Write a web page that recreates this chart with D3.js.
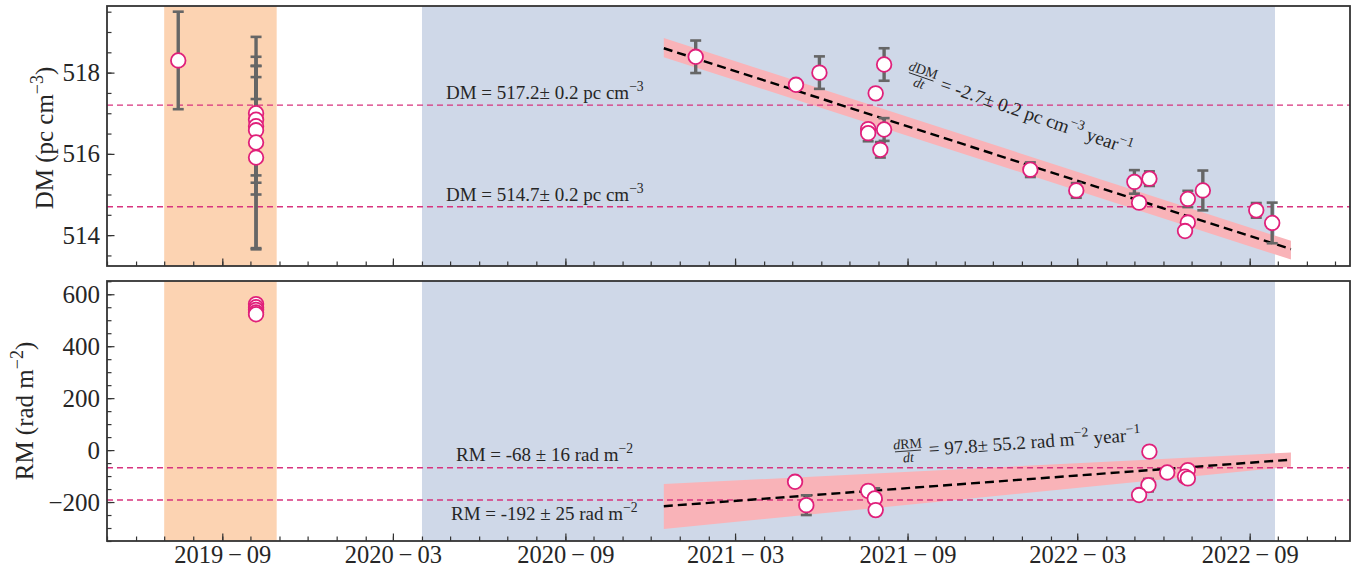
<!DOCTYPE html>
<html>
<head>
<meta charset="utf-8">
<script src="https://cdn.jsdelivr.net/npm/d3@7"></script>
<style>
  body { margin: 0; background: #fff; }
  svg { display: block; }
</style>
</head>
<body>
<svg id="chart" width="1360" height="571" font-family="Liberation Serif, Times New Roman, serif"></svg>
<script>
// ---------- data ----------
// DM measurements: epoch, value (pc cm^-3), 1-sigma error
const dmDates = [
  "2019-07-16",
  "2019-10-07", "2019-10-07", "2019-10-07", "2019-10-07", "2019-10-07", "2019-10-07",
  "2021-01-18", "2021-05-05", "2021-05-30", "2021-07-21", "2021-07-21", "2021-07-29",
  "2021-08-07", "2021-08-07", "2021-08-03",
  "2022-01-10", "2022-02-28", "2022-05-01", "2022-05-06", "2022-05-17",
  "2022-06-27", "2022-06-27", "2022-06-24", "2022-07-13", "2022-09-08", "2022-09-25"
];
const dmValues = [
  518.3,
  517.0, 516.84, 516.68, 516.58, 516.28, 515.91,
  518.39, 517.7, 518.0, 516.61, 516.51, 517.49,
  518.2, 516.6, 516.1,
  515.61, 515.1, 515.31, 514.8, 515.39,
  514.89, 514.31, 514.1, 515.1, 514.61, 514.3
];
const dmErrors = [
  1.2,
  0.35, 1.55, 1.21, 1.58, 2.6, 2.26,
  0.4, 0.08, 0.4, 0.1, 0.2, 0.05,
  0.4, 0.28, 0.19,
  0.18, 0.18, 0.29, 0.05, 0.18,
  0.2, 0.1, 0.05, 0.49, 0.18, 0.5
];

// RM measurements: epoch, value (rad m^-2), 1-sigma error
const rmDates = [
  "2019-10-07", "2019-10-07", "2019-10-07", "2019-10-07", "2019-10-07",
  "2021-05-04", "2021-05-16", "2021-07-21", "2021-07-28", "2021-07-29",
  "2022-05-17", "2022-06-05", "2022-05-16", "2022-05-06",
  "2022-06-27", "2022-06-24", "2022-06-27"
];
const rmValues = [
  562, 550, 540, 530, 523,
  -122, -212, -157, -186, -231,
  -6, -86, -135, -173,
  -77, -102, -109
];
const rmErrors = [
  4, 4, 4, 4, 4,
  8, 38, 8, 39, 8,
  5, 6, 24, 6,
  6, 6, 6
];

// observing campaigns (shaded epochs)
const orangeSpan = ["2019-07-01", "2019-10-29"];
const blueSpan = ["2020-04-01", "2022-09-28"];

// constant levels
const dmLevels = [517.2, 514.7];
const dmLevelErr = [0.2, 0.2];
const rmLevels = [-68, -192];
const rmLevelErr = [16, 25];

// linear trends over the second campaign
const fitRange = ["2020-12-15", "2022-10-15"];
const dmFitStart = 518.6, dmFitSlope = -2.7, dmSlopeErr = 0.2;
const dmBandUpper = [518.85, 513.86], dmBandLower = [518.38, 513.40];
const rmFitStart = -216, rmFitSlope = 97.8, rmSlopeErr = 55.2;
const rmBandUpper = [-131, -9], rmBandLower = [-304, -64];

// axes
const xDomain = ["2019-05-01", "2022-12-17"];
const xTickLabels = ["2019-09", "2020-03", "2020-09", "2021-03", "2021-09", "2022-03", "2022-09"];
const dmTicks = [514, 516, 518];
const rmTicks = [-200, 0, 200, 400, 600];
const dmDomain = [513.24, 519.64];
const rmDomain = [-350, 651];

// ---------- layout ----------
const L = 107, R = 1350;
const top1 = 6, bot1 = 266, top2 = 281, bot2 = 541;
const FONT = "'Liberation Serif', 'Times New Roman', serif";
const INK = "#262626";
const FRAME = "#333";
const PINK = "#e0207a";
const LEVEL = "#d8337e";
const BAR = "#666";
const YEAR = 365.25 * 864e5;

const parse = d3.utcParse("%Y-%m-%d");
const parseM = d3.utcParse("%Y-%m");
const svg = d3.select("#chart");

const x = d3.scaleUtc().domain(xDomain.map(parse)).range([L, R]);
const yDM = d3.scaleLinear().domain(dmDomain).range([bot1, top1]);
const yRM = d3.scaleLinear().domain(rmDomain).range([bot2, top2]);

function txt(parent, size) {
  return parent.append("text").style("font-family", FONT).style("font-size", size + "px").attr("fill", INK);
}

// rich text helper: parts = [[string, kind]], kind in "n","i","sup"
function rich(sel, parts, size) {
  let shift = 0;
  parts.forEach(([s, kind]) => {
    const ts = sel.append("tspan").text(s);
    if (kind === "sup") {
      ts.attr("dy", -size * 0.42 - shift).style("font-size", (size * 0.72) + "px");
      shift = -size * 0.42;
    } else {
      if (shift !== 0) { ts.attr("dy", -shift); shift = 0; }
      if (kind === "i") ts.style("font-style", "italic");
    }
  });
  return sel;
}

function fraction(g, cx, cy, num, size) {
  rich(txt(g, size).attr("x", cx).attr("y", cy - 2.5).attr("text-anchor", "middle"),
    [["d", "i"], [num, "n"]], size);
  rich(txt(g, size).attr("x", cx).attr("y", cy + size * 0.8).attr("text-anchor", "middle"),
    [["dt", "i"]], size);
  const w = num.length * size * 0.68 + size * 0.5;
  g.append("line").attr("x1", cx - w / 2).attr("x2", cx + w / 2)
    .attr("y1", cy).attr("y2", cy).attr("stroke", INK).attr("stroke-width", 0.9);
}

function panel(y, top, bot, dates, vals, errs, levels, fitStart, fitSlope, bandU, bandL) {
  const g = svg.append("g");
  // campaign spans
  g.append("rect").attr("x", x(parse(orangeSpan[0]))).attr("y", top)
    .attr("width", x(parse(orangeSpan[1])) - x(parse(orangeSpan[0]))).attr("height", bot - top)
    .attr("fill", "#fcd3b2");
  g.append("rect").attr("x", x(parse(blueSpan[0]))).attr("y", top)
    .attr("width", x(parse(blueSpan[1])) - x(parse(blueSpan[0]))).attr("height", bot - top)
    .attr("fill", "#cfd8e8");

  // trend band
  const fr = fitRange.map(parse);
  const bandData = [0, 1].map(i => ({ t: fr[i], u: bandU[i], l: bandL[i] }));
  g.append("path").datum(bandData)
    .attr("d", d3.area().x(d => x(d.t)).y0(d => y(d.l)).y1(d => y(d.u)))
    .attr("fill", "#f9b3b8");

  // constant levels
  g.selectAll(".lvl").data(levels).join("line")
    .attr("x1", L).attr("x2", R).attr("y1", d => y(d)).attr("y2", d => y(d))
    .attr("stroke", LEVEL).attr("stroke-width", 1.4).attr("stroke-dasharray", "6,4");

  // trend line
  const trend = t => fitStart + fitSlope * (t - fr[0]) / YEAR;
  g.append("path").datum(fr)
    .attr("d", d3.line().x(d => x(d)).y(d => y(trend(d))))
    .attr("fill", "none").attr("stroke", "#000").attr("stroke-width", 2.4).attr("stroke-dasharray", "9,5");

  // error bars
  const pts = dates.map((d, i) => ({ t: parse(d), v: vals[i], e: errs[i] }));
  const eb = g.append("g").attr("stroke", BAR).attr("stroke-width", 3.4);
  pts.forEach(p => {
    const px = x(p.t);
    eb.append("line").attr("x1", px).attr("x2", px).attr("y1", y(p.v - p.e)).attr("y2", y(p.v + p.e));
    [p.v - p.e, p.v + p.e].forEach(c =>
      eb.append("line").attr("x1", px - 5.5).attr("x2", px + 5.5).attr("y1", y(c)).attr("y2", y(c)).attr("stroke-width", 2.6));
  });
  // markers
  g.selectAll(".pt").data(pts).join("circle")
    .attr("cx", d => x(d.t)).attr("cy", d => y(d.v)).attr("r", 7.3)
    .attr("fill", "#fff").attr("stroke", PINK).attr("stroke-width", 1.8);
  return g;
}

panel(yDM, top1, bot1, dmDates, dmValues, dmErrors, dmLevels, dmFitStart, dmFitSlope, dmBandUpper, dmBandLower);
panel(yRM, top2, bot2, rmDates, rmValues, rmErrors, rmLevels, rmFitStart, rmFitSlope, rmBandUpper, rmBandLower);

// ---------- axes ----------
const majorX = xTickLabels.map(parseM);
const minorX = d3.utcMonth.range(x.domain()[0], x.domain()[1]);
const fmtX = d => d3.utcFormat("%Y")(d) + "\u2009\u2212\u2009" + d3.utcFormat("%m")(d);

function styleAxis(sel, size) {
  sel.attr("font-family", null).attr("font-size", null);
  sel.select(".domain").remove();
  sel.selectAll(".tick line").attr("stroke", FRAME).attr("stroke-width", 1.2);
  sel.selectAll(".tick text").style("font-family", FONT).style("font-size", size + "px").attr("fill", INK);
}

[[bot1, false], [bot2, true]].forEach(([yb, labels]) => {
  const minor = svg.append("g").attr("transform", `translate(0,${yb})`)
    .call(d3.axisBottom(x).tickValues(minorX).tickSizeInner(-4.5).tickSizeOuter(0).tickFormat(""));
  styleAxis(minor, 24.5);
  const major = svg.append("g").attr("transform", `translate(0,${yb})`)
    .call(d3.axisBottom(x).tickValues(majorX).tickSizeInner(-7.5).tickSizeOuter(0).tickPadding(5)
      .tickFormat(labels ? fmtX : ""));
  styleAxis(major, 24.5);
});

function yAxes(y, ticks, minorStep) {
  const [a, b] = y.domain();
  const minorVals = d3.range(Math.ceil(a / minorStep) * minorStep, b, minorStep);
  const minor = svg.append("g").attr("transform", `translate(${L},0)`)
    .call(d3.axisLeft(y).tickValues(minorVals).tickSizeInner(-4.5).tickSizeOuter(0).tickFormat(""));
  styleAxis(minor, 25);
  const major = svg.append("g").attr("transform", `translate(${L},0)`)
    .call(d3.axisLeft(y).tickValues(ticks).tickSizeInner(-7.5).tickSizeOuter(0).tickPadding(7)
      .tickFormat(d => d < 0 ? "\u2212" + Math.abs(d) : String(d)));
  styleAxis(major, 25);
}
yAxes(yDM, dmTicks, 0.5);
yAxes(yRM, rmTicks, 50);

// frames
[[top1, bot1], [top2, bot2]].forEach(([t, b]) =>
  svg.append("rect").attr("x", L).attr("y", t).attr("width", R - L).attr("height", b - t)
    .attr("fill", "none").attr("stroke", FRAME).attr("stroke-width", 1.8));

// axis titles
rich(txt(svg, 25).attr("transform", `translate(53,${(top1 + bot1) / 2 + 2}) rotate(-90)`)
  .attr("text-anchor", "middle"),
  [["DM (pc cm", "n"], ["\u22123", "sup"], [")", "n"]], 25);
rich(txt(svg, 25).attr("transform", `translate(33,${(top2 + bot2) / 2}) rotate(-90)`)
  .attr("text-anchor", "middle"),
  [["RM (rad m", "n"], ["\u22122", "sup"], [")", "n"]], 25);

// ---------- annotations ----------
const AF = 19;
rich(txt(svg, AF).attr("x", 446).attr("y", yDM(dmLevels[0]) - 6),
  [[`DM = ${dmLevels[0]}\u00b1 ${dmLevelErr[0]} pc cm`, "n"], ["\u22123", "sup"]], AF);
rich(txt(svg, AF).attr("x", 446).attr("y", yDM(dmLevels[1]) - 6),
  [[`DM = ${dmLevels[1]}\u00b1 ${dmLevelErr[1]} pc cm`, "n"], ["\u22123", "sup"]], AF);
rich(txt(svg, AF).attr("x", 456).attr("y", yRM(rmLevels[0]) - 7),
  [[`RM = ${rmLevels[0]} \u00b1 ${rmLevelErr[0]} rad m`, "n"], ["\u22122", "sup"]], AF);
rich(txt(svg, AF).attr("x", 451).attr("y", yRM(rmLevels[1]) + 20),
  [[`RM = ${rmLevels[1]} \u00b1 ${rmLevelErr[1]} rad m`, "n"], ["\u22122", "sup"]], AF);

// DM slope
const gDM = svg.append("g").attr("transform", "translate(907,72) rotate(19)");
fraction(gDM, 15, 0, "DM", 14);
rich(txt(gDM, AF).attr("x", 36).attr("y", 6),
  [[`= ${dmFitSlope}\u00b1 ${dmSlopeErr} pc cm`, "n"], ["\u22123", "sup"], [" year", "n"], ["\u22121", "sup"]], AF);

// RM slope
const gRM = svg.append("g").attr("transform", "translate(893,452) rotate(-4)");
fraction(gRM, 15, 0, "RM", 14);
rich(txt(gRM, AF).attr("x", 36).attr("y", 6),
  [[`= ${rmFitSlope}\u00b1 ${rmSlopeErr} rad m`, "n"], ["\u22122", "sup"], [" year", "n"], ["\u22121", "sup"]], AF);
</script>
</body>
</html>
